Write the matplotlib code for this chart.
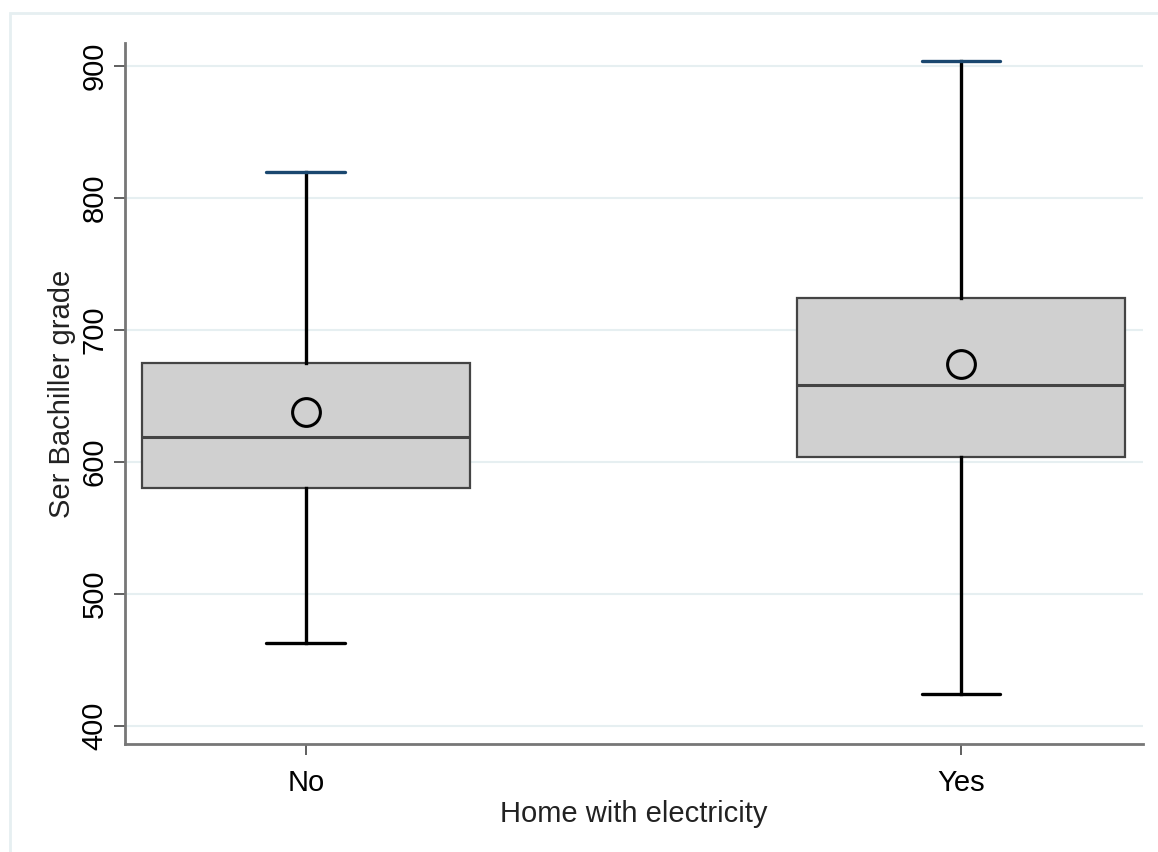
import matplotlib.pyplot as plt
from matplotlib.patches import Rectangle

plt.rcParams['font.family'] = ['Liberation Sans', 'DejaVu Sans']

groups = ['No', 'Yes']
q1 = [580, 604]
median = [619, 658]
q3 = [675, 724]
lower_whisker = [463, 424]
upper_whisker = [820, 904]
mean = [638, 674]
yticks = [400, 500, 600, 700, 800, 900]

stats = []
for i, g in enumerate(groups):
    stats.append({'label': g, 'q1': q1[i], 'med': median[i], 'q3': q3[i],
                  'whislo': lower_whisker[i], 'whishi': upper_whisker[i],
                  'mean': mean[i], 'fliers': []})

fig = plt.figure(figsize=(11.58, 8.52), dpi=100)
# light outer frame like Stata's graph region
fig.patches.append(Rectangle((10 / 1158, -0.2), 1.2, 1.2 - 13 / 852, transform=fig.transFigure,
                             fill=False, edgecolor='#e6eff1', lw=2))
ax = fig.add_axes([125 / 1158, 108 / 852, 1018 / 1158, 701 / 852])

bp = ax.bxp(stats, positions=[1, 2], widths=0.5, patch_artist=True, showmeans=True,
            capwidths=0.12,
            boxprops=dict(facecolor='#d0d0d0', edgecolor='#444444', lw=1.6),
            medianprops=dict(color='#444444', lw=2.2),
            whiskerprops=dict(color='black', lw=2.4),
            capprops=dict(color='black', lw=2.4),
            meanprops=dict(marker='o', markerfacecolor='none', markeredgecolor='black',
                           markersize=20, markeredgewidth=2.2))
for c in bp['caps'][1::2]:
    c.set_color('#1a476f')
for c in bp['caps']:
    c.set_solid_capstyle('round')

ax.set_xlim(0.724, 2.278)
ax.set_ylim(386.4, 917.4)
ax.set_yticks(yticks)
ax.set_yticklabels([str(v) for v in yticks], rotation=90, va='center')
ax.grid(axis='y', color='#e6eff1', lw=1.5)
ax.set_axisbelow(True)
for s in ['top', 'right']:
    ax.spines[s].set_visible(False)
for s in ['left', 'bottom']:
    ax.spines[s].set_color('#777777')
    ax.spines[s].set_linewidth(2)
ax.tick_params(axis='both', labelsize=21, length=8, width=1.2, color='#444444', pad=4)
ax.tick_params(axis='x', pad=10)
ax.set_ylabel('Ser Bachiller grade', fontsize=21, color='#222222', labelpad=3)
ax.set_xlabel('Home with electricity', fontsize=21, color='#222222', labelpad=2)

fig.savefig('out.png', dpi=100)
